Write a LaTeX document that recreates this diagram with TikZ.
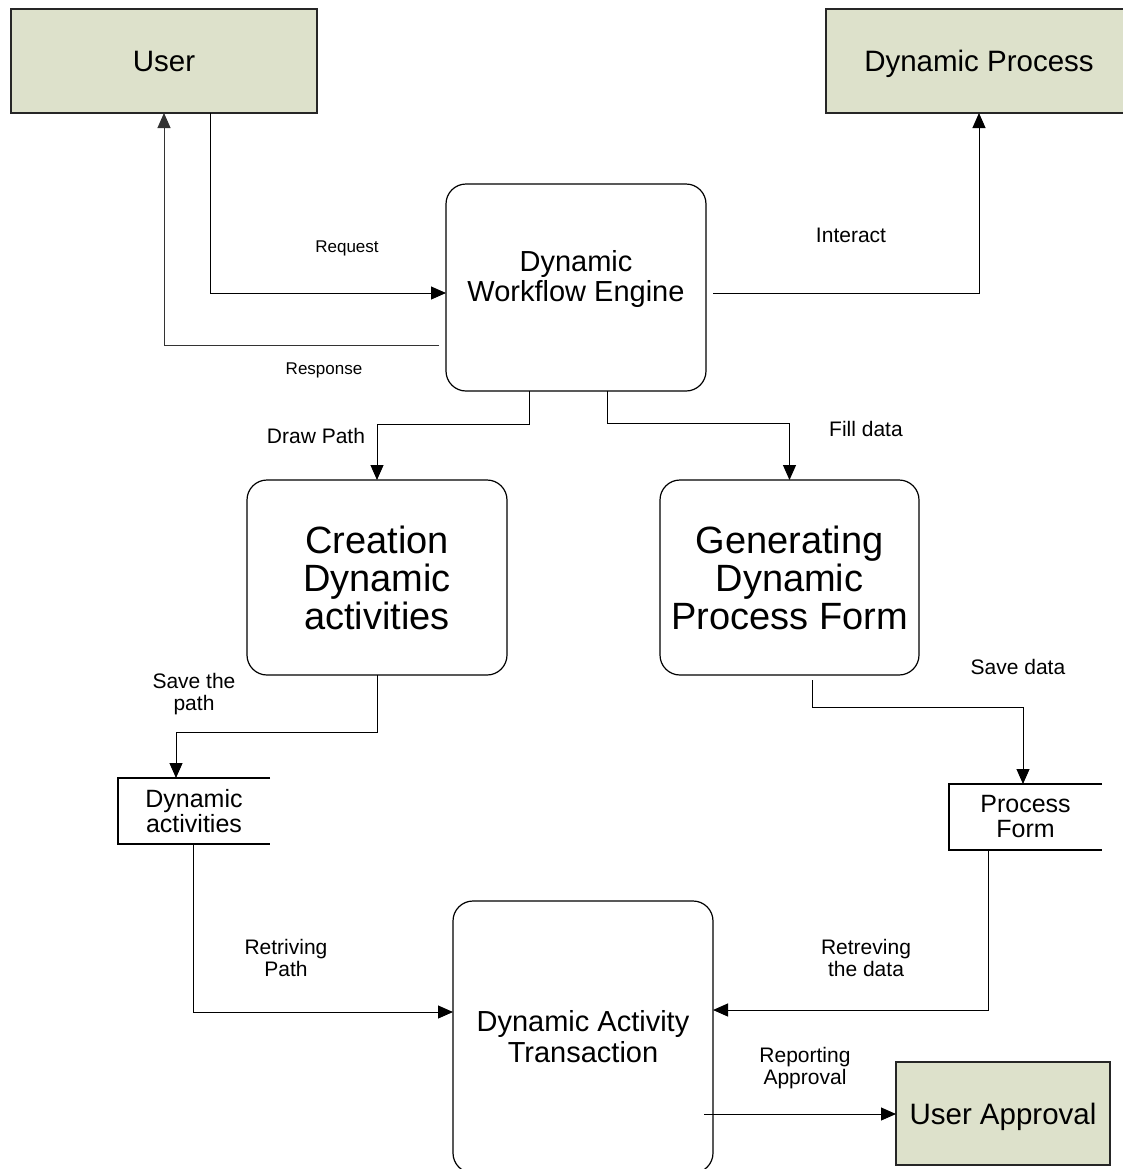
\documentclass[tikz,border=0pt]{standalone}
\usepackage{fontspec}
\setmainfont{Liberation Sans}
\usetikzlibrary{arrows.meta,calc}
\definecolor{entfill}{RGB}{221,225,203}
\begin{document}
\begin{tikzpicture}[x=0.5pt,y=-0.5pt,
  ent/.style={draw=black!85,fill=entfill,line width=0.6pt,inner sep=0pt,outer sep=0pt,text depth=0pt,font=\fontsize{14.75pt}{17pt}\selectfont},
  proc/.style={draw=black,rounded corners=10pt,line width=0.6pt,inner sep=0pt,outer sep=0pt,minimum width=130pt,align=center},
  store/.style={inner sep=0pt,outer sep=0pt,align=center,font=\fontsize{12.5pt}{12.5pt}\selectfont},
  storeline/.style={draw=black,line width=0.6pt},
  lbl/.style={align=center,inner sep=0pt,font=\fontsize{10.5pt}{11pt}\selectfont},
  slbl/.style={align=center,inner sep=0pt,font=\fontsize{8.5pt}{10pt}\selectfont},
  flow/.style={draw=black,line width=0.5pt,-{Triangle[length=7.5pt,width=6.5pt]}},
]
\useasboundingbox (0,0) rectangle (1123,1169);
\clip (0,0) rectangle (1123,1169);
\fill[white] (0,0) rectangle (1123,1169);

% entities
\node[ent,minimum width=153pt,minimum height=52pt] (user) at (164,61) {User};
\node[ent,minimum width=153pt,minimum height=52pt] (dproc) at (979,61) {Dynamic Process};
\node[ent,minimum width=107pt,minimum height=51.5pt] (uappr) at (1003,1113.5) {User Approval};

% processes
\node[proc,minimum height=103.5pt,
  label={[yshift=4.25pt,align=center,inner sep=0pt,font=\fontsize{14.5pt}{15pt}\selectfont]center:{Dynamic\\Workflow Engine}}] (engine) at (576,287.5) {};
\node[proc,minimum height=97.5pt,font=\fontsize{19pt}{19pt}\selectfont] (create) at (377,577.5) {Creation\\Dynamic\\activities};
\node[proc,minimum width=129.5pt,minimum height=97.5pt,font=\fontsize{19pt}{19pt}\selectfont] (gen) at (789.5,577.5) {Generating\\Dynamic\\Process Form};
\node[proc,minimum height=136pt,font=\fontsize{14.5pt}{15.5pt}\selectfont] (dat) at (583,1037) {Dynamic Activity\\Transaction};

% data stores
\node[store,minimum width=76pt,minimum height=33pt] (dact) at (194,811) {Dynamic\\activities};
\draw[storeline] (dact.north east) -- (dact.north west) -- (dact.south west) -- (dact.south east);
\node[store,minimum width=76.5pt,minimum height=33pt] (pform) at (1025.5,817) {Process\\Form};
\draw[storeline] (pform.north east) -- (pform.north west) -- (pform.south west) -- (pform.south east);

% bend coordinates
\coordinate (rq) at (210,293);
\coordinate (rs) at (164,345);
\coordinate (ia) at (979,293);
\coordinate (dp) at (529,424);
\coordinate (fd) at (607,423);
\coordinate (sp) at (176,732);
\coordinate (sd1) at (812,707);
\coordinate (sd2) at (1023,707);
\coordinate (rp) at (193,1012);
\coordinate (rd) at (988,1010);
\coordinate (ra) at (704,1114);

% connectors
\draw[flow] (user.south -| rq) |- (engine.west |- rq);
\draw[flow,draw=black!80] ([xshift=-3.5pt]engine.west |- rs) -| (user.south);
\draw[flow] ([xshift=3.5pt]engine.east |- ia) -| (dproc.south);
\draw[flow] (engine.south -| dp) -- (dp) -| (create.north);
\draw[flow] (engine.south -| fd) -- (fd) -| (gen.north);
\draw[flow] (create.south) |- (sp) -- (dact.north -| sp);
\draw[flow] ([yshift=-2.5pt]gen.south -| sd1) -- (sd1) -- (sd2) -- (pform.north -| sd2);
\draw[flow] (dact.south -| rp) |- (dat.west |- rp);
\draw[flow] (pform.south -| rd) |- (dat.east |- rd);
\draw[flow] (ra) -- (uappr.west |- ra);

% labels
\node[slbl] (lreq) at (347,248) {Request};
\node[slbl] (lres) at (324,370) {Response};
\node[lbl] (lint) at (851,235) {Interact};
\node[lbl] (ldp) at (316,436) {Draw Path};
\node[lbl] (lfd) at (866,429) {Fill data};
\node[lbl] (lsp) at (194,694) {Save the\\path};
\node[lbl] (lsd) at (1018,667) {Save data};
\node[lbl] (lrp) at (286,958) {Retriving\\Path};
\node[lbl] (lrd) at (866,958) {Retreving\\the data};
\node[lbl] (lra) at (805,1068) {Reporting\\Approval};
\end{tikzpicture}
\end{document}
